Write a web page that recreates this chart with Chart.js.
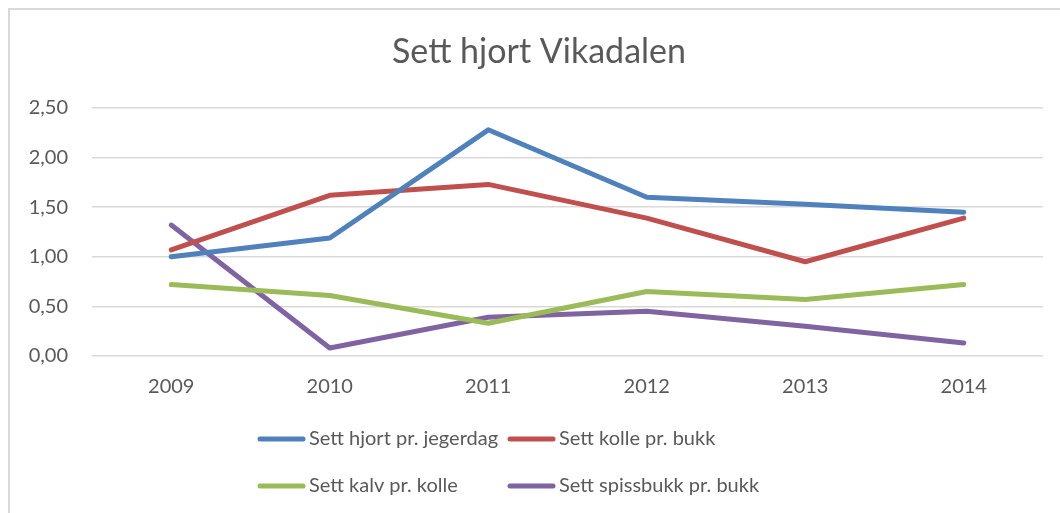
<!DOCTYPE html>
<html>
<head>
    <title>Sett hjort Vikadalen</title>
    <script src="https://cdn.jsdelivr.net/npm/chart.js"></script>
    <style>
        body { margin: 0; background: #fff; }
        #frame { position: absolute; left: 8px; top: 8px; width: 1060px; height: 520px;
                 border-left: 2px solid #d9d9d9; border-top: 2px solid #d9d9d9; }
        #wrap { position: absolute; left: 0; top: 0; width: 1060px; height: 513px; }
    </style>
</head>
<body>
    <div id="frame"></div>
    <div id="wrap"><canvas id="lineChart"></canvas></div>

    <script>
        var chartTitle = "Sett hjort Vikadalen";
        var years = ["2009", "2010", "2011", "2012", "2013", "2014"];
        var hjortPrJegerdag = [1.00, 1.19, 2.28, 1.60, 1.53, 1.45];
        var kollePrBukk = [1.07, 1.62, 1.73, 1.39, 0.95, 1.39];
        var kalvPrKolle = [0.72, 0.61, 0.33, 0.65, 0.57, 0.72];
        var spissbukkPrBukk = [1.32, 0.08, 0.39, 0.45, 0.30, 0.13];

        var seriesNames = ["Sett hjort pr. jegerdag", "Sett kolle pr. bukk", "Sett kalv pr. kolle", "Sett spissbukk pr. bukk"];
        var seriesColors = ["#4f81bd", "#c0504d", "#9bbb59", "#8064a2"];
        var seriesData = [hjortPrJegerdag, kollePrBukk, kalvPrKolle, spissbukkPrBukk];

        var textColor = "#595959";
        var fontFamily = "Lato, 'Open Sans', sans-serif";

        // title sits centred over the whole frame, not just the plot
        var frameTitle = {
            id: "frameTitle",
            afterDraw: function (chart) {
                var ctx = chart.ctx;
                ctx.save();
                ctx.font = "34px " + fontFamily;
                ctx.fillStyle = textColor;
                ctx.textAlign = "center";
                ctx.textBaseline = "middle";
                ctx.fillText(chartTitle, 539, 52);
                ctx.restore();
            }
        };

        // legend laid out in a fixed 2x2 grid under the axis
        var gridLegend = {
            id: "gridLegend",
            afterDraw: function (chart) {
                var ctx = chart.ctx;
                var cols = [258, 508];
                var rows = [439, 486];
                ctx.save();
                ctx.font = "20px " + fontFamily;
                ctx.textBaseline = "middle";
                ctx.textAlign = "left";
                chart.data.datasets.forEach(function (ds, i) {
                    var x = cols[i % 2];
                    var y = rows[Math.floor(i / 2)];
                    ctx.strokeStyle = ds.borderColor;
                    ctx.lineWidth = 5;
                    ctx.lineCap = "round";
                    ctx.beginPath();
                    ctx.moveTo(x + 2, y);
                    ctx.lineTo(x + 45, y);
                    ctx.stroke();
                    ctx.fillStyle = textColor;
                    ctx.fillText(ds.label, x + 51, y);
                });
                ctx.restore();
            }
        };

        var ctx = document.getElementById("lineChart").getContext("2d");
        var chart = new Chart(ctx, {
            type: "line",
            data: {
                labels: years,
                datasets: seriesData.map(function (values, i) {
                    return {
                        label: seriesNames[i],
                        data: values,
                        borderColor: seriesColors[i],
                        backgroundColor: seriesColors[i],
                        borderWidth: 5,
                        borderCapStyle: "round",
                        borderJoinStyle: "round",
                        pointRadius: 0,
                        tension: 0
                    };
                })
            },
            options: {
                responsive: true,
                maintainAspectRatio: false,
                animation: false,
                layout: { padding: { left: 0, right: 17, top: 108, bottom: 0 } },
                plugins: {
                    legend: { display: false },
                    tooltip: { enabled: false },
                    title: { display: false }
                },
                scales: {
                    x: {
                        offset: true,
                        grid: { display: false },
                        border: { display: false },
                        ticks: {
                            color: textColor,
                            font: { family: fontFamily, size: 20 },
                            padding: 11
                        },
                        afterFit: function (scale) { scale.height = 157; }
                    },
                    y: {
                        min: 0,
                        max: 2.5,
                        grid: { color: "#d9d9d9", lineWidth: 1.5, drawTicks: false },
                        border: { display: false },
                        ticks: {
                            stepSize: 0.5,
                            color: textColor,
                            font: { family: fontFamily, size: 20 },
                            padding: 24,
                            callback: function (value) {
                                return value.toFixed(2).replace(".", ",");
                            }
                        },
                        afterFit: function (scale) { scale.width = 92; }
                    }
                }
            },
            plugins: [frameTitle, gridLegend]
        });
    </script>
</body>
</html>
